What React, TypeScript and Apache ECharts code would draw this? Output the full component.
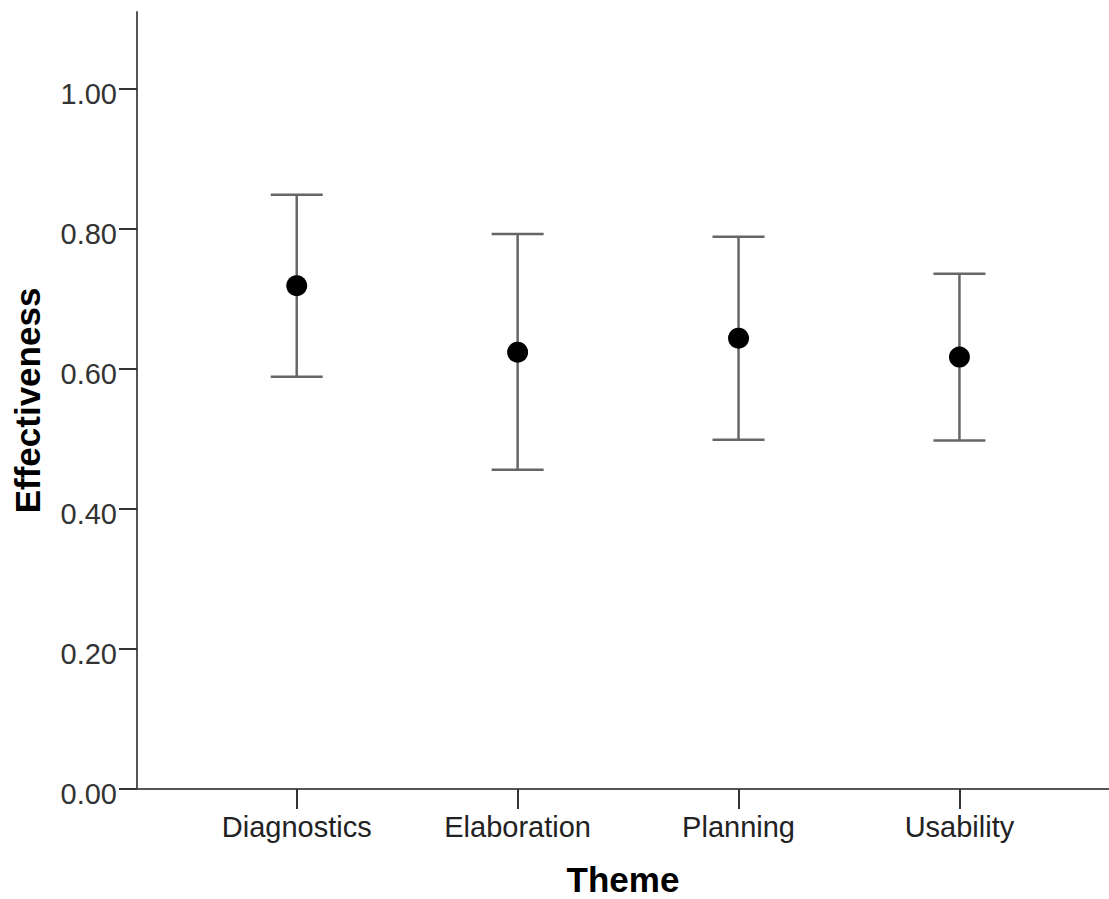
import React, { useEffect, useRef } from 'react';
import * as echarts from 'echarts';

const categories = ['Diagnostics', 'Elaboration', 'Planning', 'Usability'];
const xPositions = [1, 2, 3, 4];
const means = [0.719, 0.624, 0.644, 0.617];
const lowerCI = [0.589, 0.456, 0.499, 0.498];
const upperCI = [0.849, 0.793, 0.789, 0.736];
const yTicks = [0, 0.2, 0.4, 0.6, 0.8, 1.0];

export default function App() {
  const ref = useRef<HTMLDivElement>(null);
  useEffect(() => {
    const chart = echarts.init(ref.current!, null, { renderer: 'svg' });
    const font = "'Liberation Sans', Arial, sans-serif";
    chart.setOption({
      animation: false,
      backgroundColor: '#ffffff',
      grid: { left: 137, right: 0, top: 12, bottom: 110, containLabel: false, outerBoundsMode: 'none' },
      xAxis: {
        type: 'value',
        min: 0.277,
        max: 4.677,
        name: 'Theme',
        nameLocation: 'middle',
        nameGap: 73,
        nameTextStyle: { fontFamily: font, fontSize: 35, fontWeight: 'bold', color: '#000' },
        axisLine: { lineStyle: { color: '#555', width: 2 } },
        axisTick: { customValues: xPositions, length: 20, lineStyle: { color: '#333', width: 2 } },
        axisLabel: {
          customValues: xPositions,
          formatter: (v: number) => categories[Math.round(v) - 1] ?? '',
          margin: 23,
          fontSize: 29,
          color: '#222',
          fontFamily: font,
        },
        splitLine: { show: false },
      },
      yAxis: {
        type: 'value',
        min: 0,
        max: 1.11,
        name: 'Effectiveness',
        nameLocation: 'middle',
        nameGap: 92,
        nameTextStyle: { fontFamily: font, fontSize: 35, fontWeight: 'bold', color: '#000' },
        axisLine: { show: true, lineStyle: { color: '#555', width: 2 } },
        axisTick: { show: true, customValues: yTicks, length: 18, lineStyle: { color: '#333', width: 2 } },
        axisLabel: {
          customValues: yTicks,
          formatter: (v: number) => '{v|' + v.toFixed(2) + '}',
          margin: 20,
          rich: {
            v: { fontSize: 29, color: '#333', fontFamily: font, padding: [9, 0, 0, 0] },
          },
        },
        splitLine: { show: false },
      },
      series: [
        {
          type: 'custom',
          data: xPositions.map((x, i) => [x, lowerCI[i], upperCI[i]]),
          encode: { x: 0, y: [1, 2] },
          renderItem: (params: any, api: any) => {
            const x = api.value(0);
            const lo = api.coord([x, api.value(1)]);
            const hi = api.coord([x, api.value(2)]);
            const hw = 26;
            const style = { stroke: '#666', lineWidth: 2.5 };
            return {
              type: 'group',
              children: [
                { type: 'line', shape: { x1: hi[0], y1: hi[1], x2: lo[0], y2: lo[1] }, style },
                { type: 'line', shape: { x1: hi[0] - hw, y1: hi[1], x2: hi[0] + hw, y2: hi[1] }, style },
                { type: 'line', shape: { x1: lo[0] - hw, y1: lo[1], x2: lo[0] + hw, y2: lo[1] }, style },
              ],
            };
          },
          z: 2,
        },
        {
          type: 'scatter',
          data: xPositions.map((x, i) => [x, means[i]]),
          symbol: 'circle',
          symbolSize: 21,
          itemStyle: { color: '#000', opacity: 1 },
          z: 3,
        },
      ],
    });
    return () => chart.dispose();
  }, []);
  return (
    <div
      ref={ref}
      style={{ position: 'fixed', left: 0, top: 0, width: 1109, height: 899, background: '#fff' }}
    />
  );
}
